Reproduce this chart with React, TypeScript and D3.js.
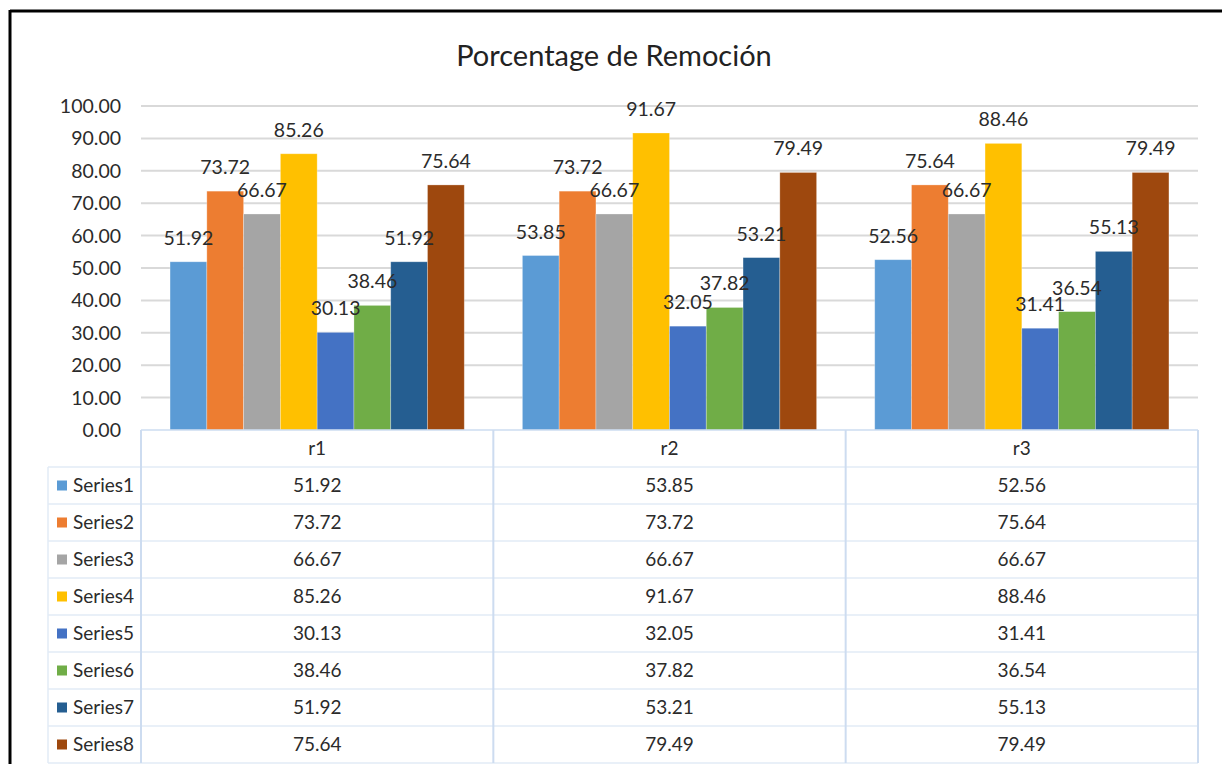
import React from 'react';
import * as d3 from 'd3';

/* ─── data ─── */
const categories = ['r1', 'r2', 'r3'];
const seriesNames = ['Series1', 'Series2', 'Series3', 'Series4', 'Series5', 'Series6', 'Series7', 'Series8'];
const series1 = [51.92, 53.85, 52.56];
const series2 = [73.72, 73.72, 75.64];
const series3 = [66.67, 66.67, 66.67];
const series4 = [85.26, 91.67, 88.46];
const series5 = [30.13, 32.05, 31.41];
const series6 = [38.46, 37.82, 36.54];
const series7 = [51.92, 53.21, 55.13];
const series8 = [75.64, 79.49, 79.49];
const yTicks = [0, 10, 20, 30, 40, 50, 60, 70, 80, 90, 100];
const title = 'Porcentage de Remoción';

const values = [series1, series2, series3, series4, series5, series6, series7, series8];
const COLORS = ['#5B9BD5', '#ED7D31', '#A5A5A5', '#FFC000', '#4472C4', '#70AD47', '#255E91', '#9E480E'];

const W = 1222;
const H = 764;
const FONT = 'Lato, "Open Sans", sans-serif';
const TEXT = '#2b2b2b';
const GRID = '#d9d9d9';
const TABLE_H = '#e2ebf6';
const TABLE_V = '#cddcf0';

export default function App() {
    const plot = { left: 141, right: 1198, top: 106, bottom: 430 };
    const x = d3.scaleBand<string>().domain(categories).range([plot.left, plot.right]);
    const xi = d3.scaleBand<string>().domain(seriesNames).range([0, x.bandwidth()]).paddingInner(0).paddingOuter(0.79);
    const y = d3.scaleLinear().domain([0, 100]).range([plot.bottom, plot.top]);

    const headerTop = 430;
    const rows = d3.scaleBand<string>().domain(seriesNames).range([467, 763]);
    const legendLeft = 48;

    return (
        <div style={{ position: 'fixed', left: 0, top: 0 }}>
            <svg width={W} height={H} style={{ display: 'block', background: '#fff' }} fontFamily={FONT}>
                {/* outer frame */}
                <line x1={10} x2={W} y1={11} y2={11} stroke="#000" strokeWidth={3} />
                <line x1={10} x2={10} y1={10} y2={H} stroke="#000" strokeWidth={3} />

                <text x={614} y={66} textAnchor="middle" fontSize={29} fill="#222">{title}</text>

                {/* grid + y axis */}
                {yTicks.map(t => (
                    <g key={t}>
                        {t > 0 && <line x1={plot.left} x2={plot.right} y1={y(t)} y2={y(t)} stroke={GRID} strokeWidth={2} />}
                        <text x={121} y={y(t)} dy="0.36em" textAnchor="end" fontSize={19.5} fill={TEXT}>{t.toFixed(2)}</text>
                    </g>
                ))}

                {/* bars */}
                {categories.map((c, ci) => (
                    <g key={c} transform={`translate(${x(c)},0)`}>
                        {seriesNames.map((s, si) => {
                            const v = values[si][ci];
                            return (
                                <rect key={s} x={xi(s)} y={y(v)} width={xi.bandwidth()} height={y(0) - y(v)}
                                    fill={COLORS[si]} stroke="#fff" strokeOpacity={0.35} strokeWidth={0.8} />
                            );
                        })}
                    </g>
                ))}

                {/* data labels */}
                {categories.map((c, ci) => (
                    <g key={c} transform={`translate(${x(c)},0)`}>
                        {seriesNames.map((s, si) => {
                            const v = values[si][ci];
                            return (
                                <text key={s} x={(xi(s) as number) + xi.bandwidth() / 2} y={y(v) - 17}
                                    textAnchor="middle" fontSize={19.5} fill={TEXT}>{v.toFixed(2)}</text>
                            );
                        })}
                    </g>
                ))}

                {/* data table */}
                <g fill="none" stroke={TABLE_H} strokeWidth={1.5}>
                    <line x1={plot.left} x2={plot.right} y1={headerTop} y2={headerTop} stroke={TABLE_V} />
                    <line x1={legendLeft} x2={plot.right} y1={rows.range()[0]} y2={rows.range()[0]} />
                    {seriesNames.map(s => (
                        <line key={s} x1={legendLeft} x2={plot.right} y1={(rows(s) as number) + rows.bandwidth()} y2={(rows(s) as number) + rows.bandwidth()} />
                    ))}
                    <line x1={legendLeft} x2={legendLeft} y1={rows.range()[0]} y2={rows.range()[1]} />
                    {categories.map(c => (
                        <line key={c} x1={x(c)} x2={x(c)} y1={headerTop} y2={rows.range()[1]} stroke={TABLE_V} strokeWidth={2} />
                    ))}
                    <line x1={plot.right} x2={plot.right} y1={headerTop} y2={rows.range()[1]} stroke={TABLE_V} strokeWidth={2} />
                </g>

                {categories.map(c => (
                    <text key={c} x={(x(c) as number) + x.bandwidth() / 2} y={(headerTop + rows.range()[0]) / 2} dy="0.36em"
                        textAnchor="middle" fontSize={19} fill={TEXT}>{c}</text>
                ))}

                {seriesNames.map((s, si) => {
                    const cy = (rows(s) as number) + rows.bandwidth() / 2;
                    return (
                        <g key={s}>
                            <rect x={57} y={cy - 5} width={10} height={10} fill={COLORS[si]} />
                            <text x={73} y={cy} dy="0.36em" fontSize={19} fill={TEXT}>{s}</text>
                            {categories.map((c, ci) => (
                                <text key={c} x={(x(c) as number) + x.bandwidth() / 2} y={cy} dy="0.36em"
                                    textAnchor="middle" fontSize={19} fill={TEXT}>{values[si][ci].toFixed(2)}</text>
                            ))}
                        </g>
                    );
                })}
            </svg>
        </div>
    );
}
